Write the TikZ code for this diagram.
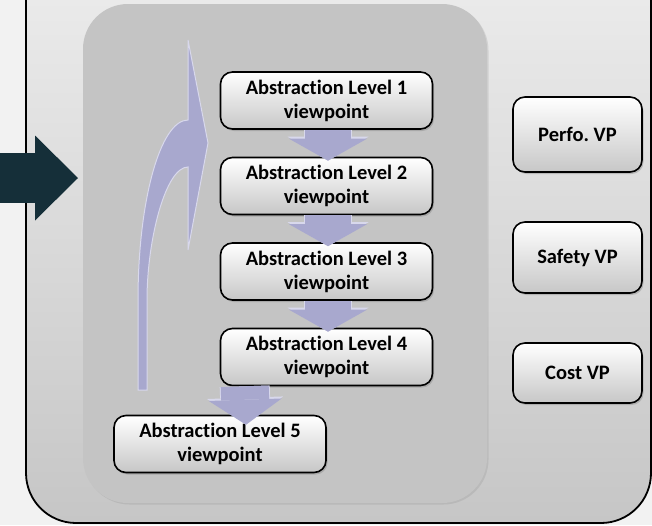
\documentclass[tikz,border=0pt]{standalone}
\usepackage{fontspec}
\setmainfont[RawFeature={-liga}]{Carlito}
\usetikzlibrary{arrows.meta,positioning,shadows}

\definecolor{pagegray}{RGB}{242,242,242}
\definecolor{outertop}{RGB}{238,238,238}
\definecolor{outerbot}{RGB}{198,198,198}
\definecolor{coregray}{RGB}{196,196,196}
\definecolor{lavfill}{RGB}{168,168,206}
\definecolor{lavedge}{RGB}{216,216,236}
\definecolor{darkteal}{RGB}{21,47,57}

\begin{document}
\begin{tikzpicture}[x=1pt,y=-1pt,node distance=85.5pt,
		level node/.style={draw,rounded corners=12pt,line width=1.6pt,top color=white,bottom color=black!22,
			minimum width=212pt,minimum height=57pt,align=center,font=\bfseries\fontsize{20.5}{24}\selectfont,
			drop shadow={opacity=0.4,shadow xshift=1.5pt,shadow yshift=-2pt}},
		vp node/.style={level node,minimum width=129pt},
		core box/.style={rounded corners=45pt,fill=coregray,minimum width=404pt,minimum height=499pt,
			drop shadow={opacity=0.2,shadow xshift=1.5pt,shadow yshift=-1.5pt}},
		down arrow/.style={draw=lavfill,line width=46pt,-{Triangle[width=78pt,length=22pt,line width=0pt]},
			preaction={draw=lavedge,line width=48pt,-{Triangle[width=81pt,length=24pt,line width=0pt]}}},
		last arrow/.style={draw=lavfill,line width=48pt,-{Triangle[width=73pt,length=25pt,line width=0pt]},
			preaction={draw=lavedge,line width=50pt,-{Triangle[width=76pt,length=27pt,line width=0pt]}}}]
		
		\useasboundingbox (0,0) rectangle (652,525);
		\clip (0,0) rectangle (652,525);
		\fill[pagegray] (0,0) rectangle (652,525);
		\draw[line width=1.8pt,rounded corners=50pt,top color=outertop,bottom color=outerbot] (26,-60) rectangle (651,523);
		
		\node[core box] (core) at (285,253.5) {};
		
		% curved arrow on the left
		\draw[lavedge,line width=1pt,fill=lavfill] (138,390) -- (138,300)
			.. controls (138,200.6) and (160.4,120) .. (188,120) -- (188,40) -- (208,143) -- (188,250) -- (188,167)
			.. controls (165.4,167) and (147,240.4) .. (147,300) -- (147,390) -- cycle;
		
		\node[level node] (l1) at (326.5,100.5) {Abstraction Level 1\\viewpoint};
		\node[level node] (l2) [below of=l1] {Abstraction Level 2\\viewpoint};
		\node[level node] (l3) [below of=l2] {Abstraction Level 3\\viewpoint};
		\node[level node] (l4) [below of=l3] {Abstraction Level 4\\viewpoint};
		\node[level node] (l5) at (220,444) {Abstraction Level 5\\viewpoint};
		
		\node[vp node,minimum height=75pt] (perf) at (577.5,134.5) {Perfo.\ VP};
		\node[vp node,minimum height=71pt] (safe) at (577.5,257.5) {Safety VP};
		\node[vp node,minimum height=60pt] (cost) at (577.5,373) {Cost VP};
		
		\draw[down arrow] ([xshift=1.5pt]l1.south) -- ([xshift=1.5pt,yshift=-4pt]l2.north);
		\draw[down arrow] ([xshift=1.5pt]l2.south) -- ([xshift=1.5pt,yshift=-4pt]l3.north);
		\draw[down arrow] ([xshift=1.5pt]l3.south) -- ([xshift=1.5pt,yshift=-4pt]l4.north);
		\draw[last arrow] ([xshift=25pt]l4.south west) -- ([xshift=26pt,yshift=-10pt]l5.north);
		
		% input arrow
		\coordinate (src) at (0,178);
		\coordinate (dst) at (78,178);
		\draw[darkteal,line width=50pt,-{Triangle[width=85pt,length=43pt,line width=0pt]}] (src) -- (dst);
\end{tikzpicture}
\end{document}
